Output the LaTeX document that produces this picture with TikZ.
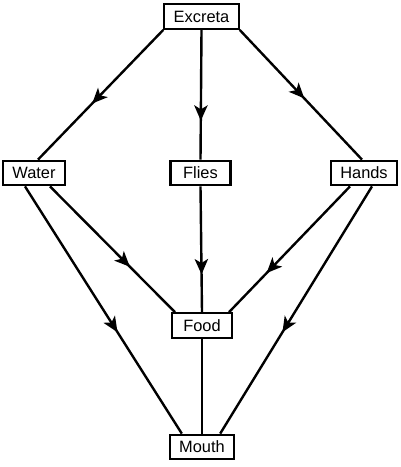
\documentclass[tikz,border=0pt]{standalone}
\usepackage{fontspec}
\setmainfont{Liberation Sans}
\usetikzlibrary{arrows.meta,decorations.markings,calc}
\begin{document}
\begin{tikzpicture}[x=0.75pt,y=-0.75pt,
  box/.style={draw,line width=1.6pt,rectangle,minimum width=45pt,minimum height=18.5pt,inner xsep=7pt,inner ysep=2pt,font=\fontsize{12.3}{14}\selectfont},
  link/.style={line width=1.8pt},
  arr/.style={link,postaction={decorate},decoration={markings,mark=at position #1 with {\arrow{Stealth[length=11.5pt,width=10pt,inset=3pt]}}}}
]
\useasboundingbox (0,0) rectangle (400,467);
\node[box] (exc) at (201.5,16.5) {Excreta};
\node[box] (wat) at (34,173) {Water};
\node[box] (fli) at (200.5,173) {Flies};
\node[box] (han) at (364,173) {Hands};
\node[box] (foo) at (202,325.5) {Food};
\node[box] (mou) at (202,447) {Mouth};

\draw[arr=0.57] (exc.south west) -- ($(wat.north)+(4,0)$);
\draw[arr=0.70] (exc.south) -- (fli.north);
\draw[arr=0.53] (exc.south east) -- ($(han.north)+(-2,0)$);

\draw[arr=0.64] ($(wat.south)+(16,0)$) -- ($(foo.north west)+(4,0)$);
\draw[arr=0.59] ($(wat.south)+(-9,0)$) -- ($(mou.north west)+(13,0)$);
\draw[arr=0.70] (fli.south) -- (foo.north);
\draw[arr=0.69] ($(han.south)+(-14,0)$) -- ($(foo.north east)+(-4,0)$);
\draw[arr=0.59] ($(han.south)+(8,0)$) -- ($(mou.north east)+(-15,0)$);

\draw[link] (foo.south) -- (mou.north);
\end{tikzpicture}
\end{document}
